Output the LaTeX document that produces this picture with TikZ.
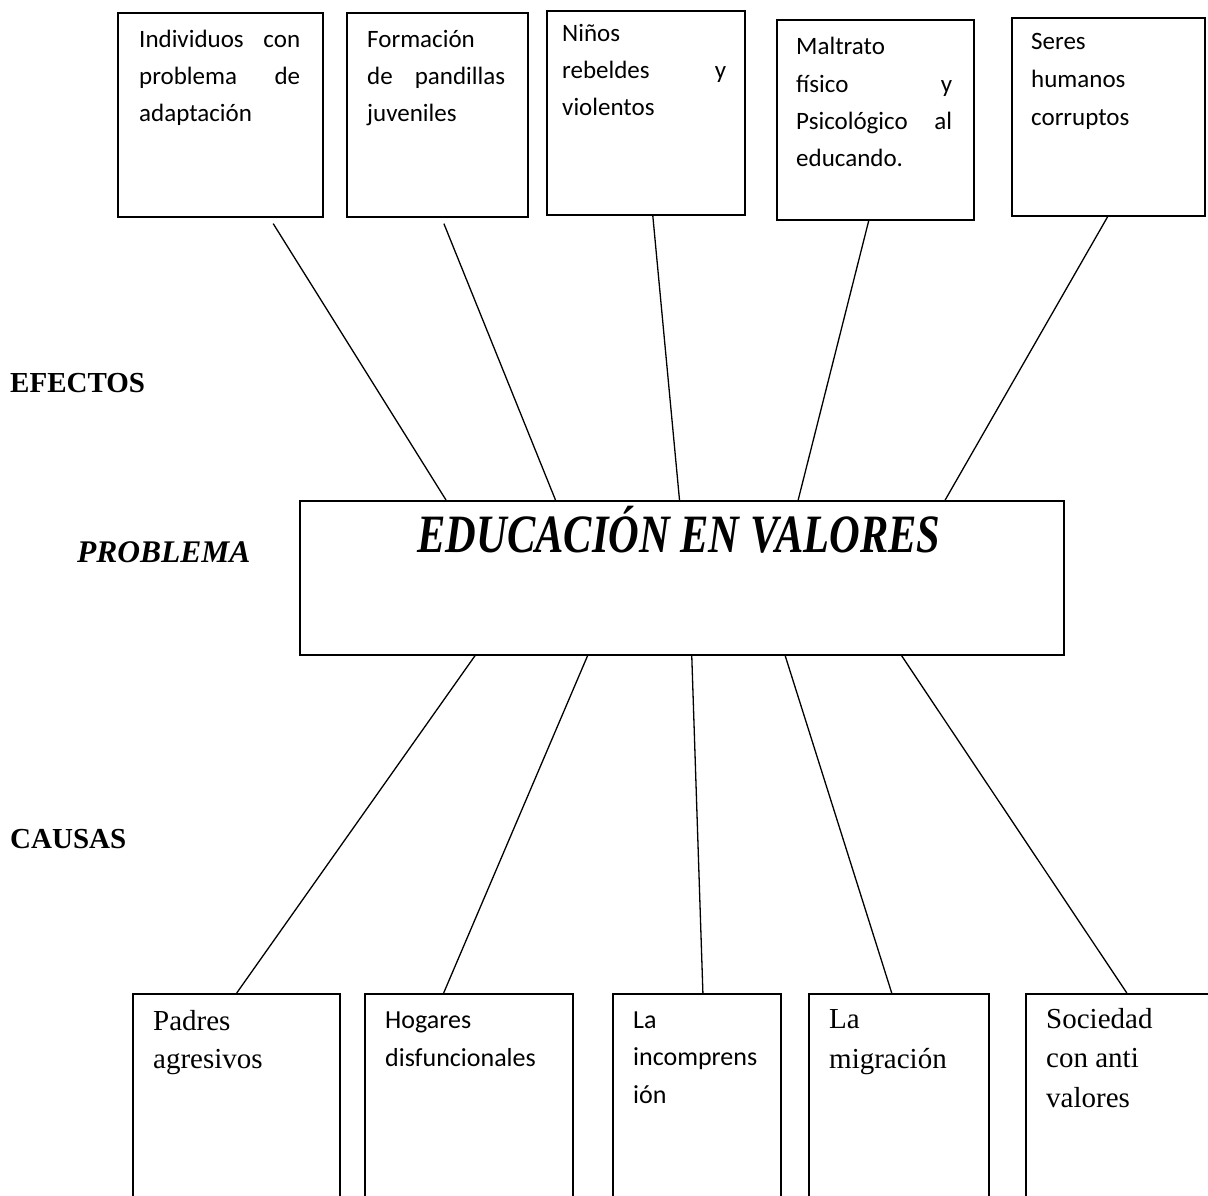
\documentclass[tikz,border=0pt]{standalone}
\usepackage{fontspec}
\usepackage{graphicx}
\newfontfamily\calfont{Carlito}
\newfontfamily\tnrfont{Liberation Serif}
\usetikzlibrary{calc}
\tikzset{
  box/.style={draw, line width=1.6pt, rectangle, inner sep=0pt, anchor=north west},
  link/.style={line width=1.3pt},
  lbl/.style={inner sep=0pt, anchor=base west},
}
\newcommand{\jline}[2]{\makebox[#1][s]{#2}}
\begin{document}
\begin{tikzpicture}[x=1pt,y=-1pt]
\useasboundingbox (0,0) rectangle (1208,1196);
\fill[white] (0,0) rectangle (1208,1196);
\clip (0,0) rectangle (1208,1196);

% top boxes (effects)
\node[box, minimum width=205pt, minimum height=204pt] (t1) at (117,12) {};
\node[box, minimum width=181pt, minimum height=204pt] (t2) at (346,12) {};
\node[box, minimum width=198pt, minimum height=204pt] (t3) at (546,10) {};
\node[box, minimum width=197pt, minimum height=200pt] (t4) at (776,19) {};
\node[box, minimum width=193pt, minimum height=198pt] (t5) at (1011,17) {};

\node[lbl] (t1x) at (139,48) {\parbox[t]{161pt}{\calfont\fontsize{25pt}{37pt}\selectfont
  \jline{161pt}{Individuos con}\\\jline{161pt}{problema de}\\adaptación}};
\node[lbl] (t2x) at (367,48) {\parbox[t]{138pt}{\calfont\fontsize{25pt}{37pt}\selectfont
  Formación\\\jline{138pt}{de pandillas}\\juveniles}};
\node[lbl] (t3x) at (562,42) {\parbox[t]{164pt}{\calfont\fontsize{25pt}{37pt}\selectfont
  Niños\\\jline{164pt}{rebeldes y}\\violentos}};
\node[lbl] (t4x) at (796,55) {\parbox[t]{156pt}{\calfont\fontsize{25pt}{37.3pt}\selectfont
  Maltrato\\\jline{156pt}{físico y}\\\jline{156pt}{Psicológico al}\\educando.}};
\node[lbl] (t5x) at (1031,50) {\parbox[t]{160pt}{\calfont\fontsize{25pt}{38pt}\selectfont
  Seres\\humanos\\corruptos}};

% central problem box
\node[box, minimum width=764pt, minimum height=154pt] (c) at (299,500) {};
\node[inner sep=0pt, anchor=base] (ctitle) at (679,552)
  {\scalebox{0.786}[1]{\tnrfont\bfseries\itshape\fontsize{54pt}{54pt}\selectfont EDUCACIÓN EN VALORES}};

% side labels
\node[lbl] (efe) at (10,392) {\tnrfont\bfseries\fontsize{29pt}{29pt}\selectfont EFECTOS};
\node[lbl] (pro) at (77,562) {\tnrfont\bfseries\itshape\fontsize{31.5pt}{31.5pt}\selectfont PROBLEMA};
\node[lbl] (cau) at (10,848) {\tnrfont\bfseries\fontsize{29pt}{29pt}\selectfont CAUSAS};

% bottom boxes (causes)
\node[box, minimum width=207pt, minimum height=220pt] (b1) at (132,993) {};
\node[box, minimum width=208pt, minimum height=220pt] (b2) at (364,993) {};
\node[box, minimum width=168pt, minimum height=220pt] (b3) at (612,993) {};
\node[box, minimum width=180pt, minimum height=220pt] (b4) at (808,993) {};
\node[box, minimum width=187pt, minimum height=220pt] (b5) at (1025,993) {};

\node[lbl] (b1x) at (153,1030) {\parbox[t]{170pt}{\tnrfont\fontsize{29pt}{38pt}\selectfont
  Padres\\agresivos}};
\node[lbl] (b2x) at (385,1028) {\parbox[t]{180pt}{\calfont\fontsize{26pt}{38pt}\selectfont
  Hogares\\disfuncionales}};
\node[lbl] (b3x) at (633,1028) {\parbox[t]{150pt}{\calfont\fontsize{26pt}{37.5pt}\selectfont
  La\\incomprens\\ión}};
\node[lbl] (b4x) at (829,1028) {\parbox[t]{150pt}{\tnrfont\fontsize{29pt}{40pt}\selectfont
  La\\migración}};
\node[lbl] (b5x) at (1046,1028) {\parbox[t]{160pt}{\tnrfont\fontsize{29pt}{39.5pt}\selectfont
  Sociedad\\con anti\\valores}};

% connector end points
\coordinate (a1) at ($(t1.south west)!0.756!(t1.south east)+(0,6)$);
\coordinate (a2) at ($(t2.south west)!0.536!(t2.south east)+(0,6)$);
\coordinate (a3) at ($(t3.south west)!0.535!(t3.south east)$);
\coordinate (a4) at ($(t4.south west)!0.467!(t4.south east)$);
\coordinate (a5) at ($(t5.south west)!0.497!(t5.south east)$);
\coordinate (ct1) at ($(c.north west)!0.192!(c.north east)$);
\coordinate (ct2) at ($(c.north west)!0.335!(c.north east)$);
\coordinate (ct3) at ($(c.north west)!0.497!(c.north east)$);
\coordinate (ct4) at ($(c.north west)!0.652!(c.north east)$);
\coordinate (ct5) at ($(c.north west)!0.844!(c.north east)$);
\coordinate (cb1) at ($(c.south west)!0.230!(c.south east)$);
\coordinate (cb2) at ($(c.south west)!0.377!(c.south east)$);
\coordinate (cb3) at ($(c.south west)!0.513!(c.south east)$);
\coordinate (cb4) at ($(c.south west)!0.635!(c.south east)$);
\coordinate (cb5) at ($(c.south west)!0.787!(c.south east)$);
\coordinate (d1) at ($(b1.north west)!0.502!(b1.north east)$);
\coordinate (d2) at ($(b2.north west)!0.380!(b2.north east)$);
\coordinate (d3) at ($(b3.north west)!0.536!(b3.north east)$);
\coordinate (d4) at ($(b4.north west)!0.461!(b4.north east)$);
\coordinate (d5) at ($(b5.north west)!0.540!(b5.north east)$);

\draw[link] (a1) -- (ct1);
\draw[link] (a2) -- (ct2);
\draw[link] (a3) -- (ct3);
\draw[link] (a4) -- (ct4);
\draw[link] (a5) -- (ct5);
\draw[link] (cb1) -- (d1);
\draw[link] (cb2) -- (d2);
\draw[link] (cb3) -- (d3);
\draw[link] (cb4) -- (d4);
\draw[link] (cb5) -- (d5);
\end{tikzpicture}
\end{document}
